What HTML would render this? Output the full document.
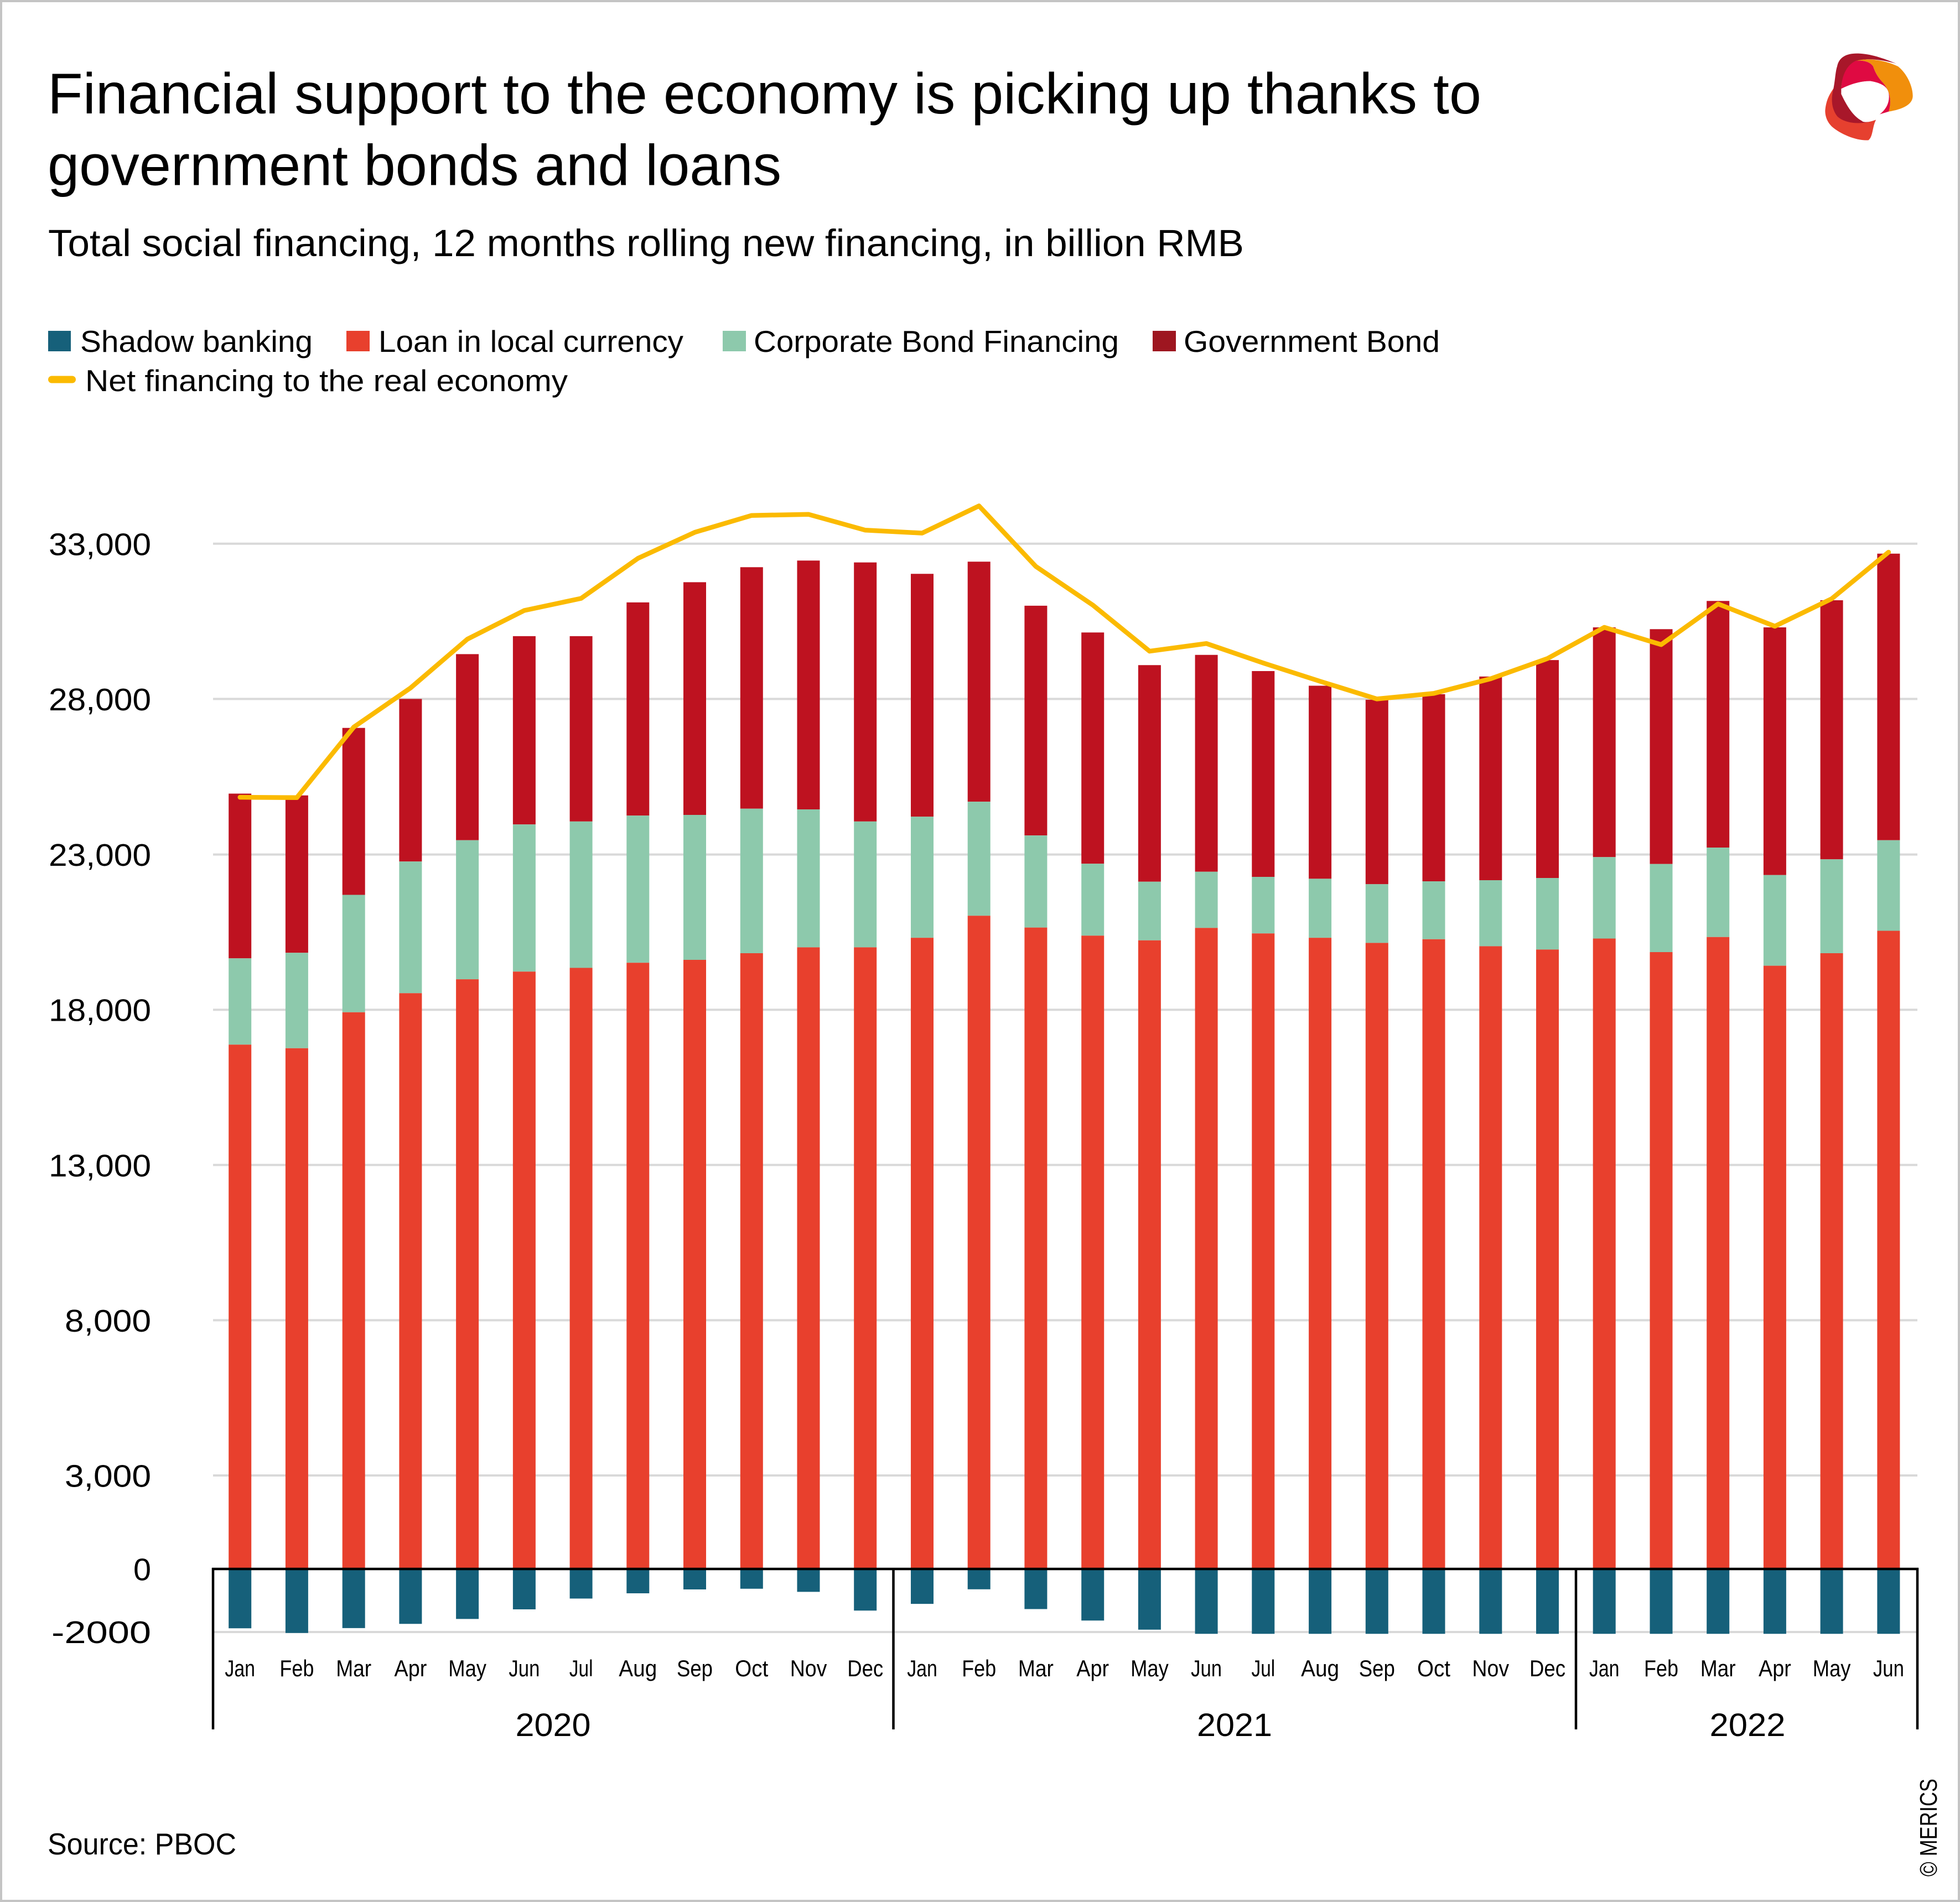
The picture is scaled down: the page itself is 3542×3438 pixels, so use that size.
<!DOCTYPE html>
<html>
<head>
<meta charset="utf-8">
<style>
  html,body{margin:0;padding:0;background:#fff;}
  svg{display:block;}
  text{font-family:"Liberation Sans","DejaVu Sans",sans-serif;fill:#000;}
</style>
</head>
<body>
<svg xmlns="http://www.w3.org/2000/svg" width="3542" height="3438" viewBox="0 0 3542 3438">
  <rect x="0" y="0" width="3542" height="3438" fill="#fff"/>
  <rect x="2" y="2" width="3538" height="3434" fill="none" stroke="#c4c4c4" stroke-width="4"/>

  <!-- Title -->
  <text x="86" y="205" font-size="104" textLength="2591" lengthAdjust="spacingAndGlyphs">Financial support to the economy is picking up thanks to</text>
  <text x="86" y="334.5" font-size="104" textLength="1326" lengthAdjust="spacingAndGlyphs">government bonds and loans</text>
  <text x="87" y="463" font-size="69" textLength="2161" lengthAdjust="spacingAndGlyphs">Total social financing, 12 months rolling new financing, in billion RMB</text>

  <!-- Logo -->
  <g transform="translate(3270,70) scale(0.3333)">
    <path d="M150,150 C160,100 200,78 265,80 C330,82 400,105 470,135 C400,115 300,100 250,125 C200,150 175,210 172,272 C190,340 230,410 290,450 C310,455 335,450 360,440 L350,462 C300,470 200,460 140,430 C110,410 95,380 100,330 C110,300 125,285 130,270 C140,220 140,180 150,150 Z" fill="#A8172A"/>
    <path d="M250,120 C320,100 420,120 480,150 C530,190 560,260 560,310 C560,350 520,380 430,395 C445,340 440,290 400,240 C370,210 355,180 345,150 C330,125 290,115 250,120 Z" fill="#F18F0C"/>
    <path d="M172,272 C175,200 200,145 250,120 C290,115 330,125 345,150 C355,180 370,210 400,240 C440,290 445,340 430,395 L380,410 C420,380 435,340 430,300 C425,260 390,240 330,230 C270,230 215,250 172,272 Z" fill="#DF0A42"/>
    <path d="M85,390 C90,330 110,300 130,270 C115,330 120,380 150,420 C190,460 280,470 360,440 C340,480 345,530 320,550 C260,555 170,520 120,475 C95,450 85,420 85,390 Z" fill="#E6402F"/>
    <path d="M172,272 C215,250 270,230 330,230 C390,240 425,260 430,300 C435,340 420,380 380,410 C340,430 320,448 295,450 C240,430 200,360 172,300 Z" fill="#fff"/>
  </g>

  <!-- Legend -->
  <rect x="87" y="598" width="41" height="37" fill="#16607A"/>
  <text x="145" y="636" font-size="55" textLength="420" lengthAdjust="spacingAndGlyphs">Shadow banking</text>
  <rect x="626" y="598" width="42" height="37" fill="#E8402D"/>
  <text x="684" y="636" font-size="55" textLength="551" lengthAdjust="spacingAndGlyphs">Loan in local currency</text>
  <rect x="1306" y="598" width="42" height="37" fill="#8DC9AC"/>
  <text x="1362" y="636" font-size="55" textLength="660" lengthAdjust="spacingAndGlyphs">Corporate Bond Financing</text>
  <rect x="2083" y="598" width="42" height="37" fill="#9E1620"/>
  <text x="2139" y="636" font-size="55" textLength="463" lengthAdjust="spacingAndGlyphs">Government Bond</text>
  <line x1="93.5" y1="686" x2="130.5" y2="686" stroke="#FBBA00" stroke-width="13" stroke-linecap="round"/>
  <text x="154" y="707" font-size="55" textLength="872" lengthAdjust="spacingAndGlyphs">Net financing to the real economy</text>

  <!-- Gridlines -->
  <g stroke="#d9d9d9" stroke-width="4">
    <line x1="385" y1="982.8" x2="3465" y2="982.8"/>
    <line x1="385" y1="1263.4" x2="3465" y2="1263.4"/>
    <line x1="385" y1="1544.6" x2="3465" y2="1544.6"/>
    <line x1="385" y1="1825.2" x2="3465" y2="1825.2"/>
    <line x1="385" y1="2105.8" x2="3465" y2="2105.8"/>
    <line x1="385" y1="2386.4" x2="3465" y2="2386.4"/>
    <line x1="385" y1="2667" x2="3465" y2="2667"/>
    <line x1="385" y1="2950" x2="3465" y2="2950"/>
  </g>

  <!-- Y labels -->
  <g font-size="57">
    <text x="88" y="1003.3" textLength="185" lengthAdjust="spacingAndGlyphs">33,000</text>
    <text x="88" y="1284" textLength="185" lengthAdjust="spacingAndGlyphs">28,000</text>
    <text x="88" y="1565" textLength="185" lengthAdjust="spacingAndGlyphs">23,000</text>
    <text x="88" y="1845.7" textLength="185" lengthAdjust="spacingAndGlyphs">18,000</text>
    <text x="88" y="2126.3" textLength="185" lengthAdjust="spacingAndGlyphs">13,000</text>
    <text x="117" y="2407" textLength="156" lengthAdjust="spacingAndGlyphs">8,000</text>
    <text x="117" y="2687.5" textLength="156" lengthAdjust="spacingAndGlyphs">3,000</text>
    <text x="241" y="2856.5" textLength="32" lengthAdjust="spacingAndGlyphs">0</text>
    <text x="93" y="2970" textLength="180" lengthAdjust="spacingAndGlyphs">-2000</text>
  </g>

  <!-- Government Bond -->
  <g stroke="#BE1220" stroke-width="41" fill="none">
    <path d="M433.7 1434.5V1732.3M536.4 1437.8V1722.3M639.2 1315.8V1617.5M741.9 1263.4V1557.2M844.6 1182.4V1518.7M947.4 1149.9V1490.2M1050.1 1149.9V1484.9M1152.8 1088.9V1474.3M1255.5 1052.4V1473M1358.3 1025.3V1461.7M1461 1013.3V1463M1563.7 1016.6V1484.9M1666.5 1037.2V1476.3M1769.2 1015.3V1449.1M1871.9 1094.9V1510.1M1974.7 1143.3V1561.2M2077.4 1202.3V1593.7M2180.1 1183.8V1575.8M2282.8 1213V1585M2385.6 1239.5V1588.4M2488.3 1264.7V1598.3M2591 1254.7V1593M2693.8 1222.9V1591M2796.5 1193.1V1587M2899.2 1134V1549.2M3002 1137.3V1561.8M3104.7 1086.3V1532M3207.4 1134V1581.7M3310.1 1085V1553.2M3412.9 1000.7V1518.7"/>
  </g>
  <!-- Corporate Bond -->
  <g stroke="#8DC9AC" stroke-width="41" fill="none">
    <path d="M433.7 1732.3V1888.2M536.4 1722.3V1894.8M639.2 1617.5V1829.8M741.9 1557.2V1795.3M844.6 1518.7V1770.1M947.4 1490.2V1756.2M1050.1 1484.9V1749.5M1152.8 1474.3V1740.3M1255.5 1473V1735M1358.3 1461.7V1723M1461 1463V1712.4M1563.7 1484.9V1712.4M1666.5 1476.3V1695.1M1769.2 1449.1V1655.3M1871.9 1510.1V1676.6M1974.7 1561.2V1691.2M2077.4 1593.7V1699.8M2180.1 1575.8V1677.2M2282.8 1585V1687.2M2385.6 1588.4V1695.1M2488.3 1598.3V1704.4M2591 1593V1697.8M2693.8 1591V1710.4M2796.5 1587V1716.4M2899.2 1549.2V1696.5M3002 1561.8V1721M3104.7 1532V1693.8M3207.4 1581.7V1745.6M3310.1 1553.2V1723M3412.9 1518.7V1682.5"/>
  </g>
  <!-- Loan -->
  <g stroke="#E8402D" stroke-width="41" fill="none">
    <path d="M433.7 1888.2V2836M536.4 1894.8V2836M639.2 1829.8V2836M741.9 1795.3V2836M844.6 1770.1V2836M947.4 1756.2V2836M1050.1 1749.5V2836M1152.8 1740.3V2836M1255.5 1735V2836M1358.3 1723V2836M1461 1712.4V2836M1563.7 1712.4V2836M1666.5 1695.1V2836M1769.2 1655.3V2836M1871.9 1676.6V2836M1974.7 1691.2V2836M2077.4 1699.8V2836M2180.1 1677.2V2836M2282.8 1687.2V2836M2385.6 1695.1V2836M2488.3 1704.4V2836M2591 1697.8V2836M2693.8 1710.4V2836M2796.5 1716.4V2836M2899.2 1696.5V2836M3002 1721V2836M3104.7 1693.8V2836M3207.4 1745.6V2836M3310.1 1723V2836M3412.9 1682.5V2836"/>
  </g>
  <!-- Shadow banking -->
  <g stroke="#16607A" stroke-width="41" fill="none">
    <path d="M433.7 2836V2943.3M536.4 2836V2951.8M639.2 2836V2942.9M741.9 2836V2935.3M844.6 2836V2926.4M947.4 2836V2909M1050.1 2836V2889.5M1152.8 2836V2880M1255.5 2836V2873M1358.3 2836V2871.7M1461 2836V2877.4M1563.7 2836V2911.3M1666.5 2836V2899.1M1769.2 2836V2872.7M1871.9 2836V2908.5M1974.7 2836V2929.2M2077.4 2836V2945.7M2180.1 2836V2953.2M2282.8 2836V2953.2M2385.6 2836V2953.2M2488.3 2836V2953.2M2591 2836V2953.2M2693.8 2836V2953.2M2796.5 2836V2953.2M2899.2 2836V2953.2M3002 2836V2953.2M3104.7 2836V2953.2M3207.4 2836V2953.2M3310.1 2836V2953.2M3412.9 2836V2953.2"/>
  </g>

  <!-- Axis lines -->
  <g stroke="#000" stroke-width="4.5" fill="none">
    <line x1="383" y1="2836" x2="3467" y2="2836"/>
    <line x1="385" y1="2834" x2="385" y2="3126"/>
    <line x1="1614.5" y1="2836" x2="1614.5" y2="3126"/>
    <line x1="2848" y1="2836" x2="2848" y2="3126"/>
    <line x1="3465" y1="2834" x2="3465" y2="3126"/>
  </g>

  <!-- Net financing line -->
  <polyline fill="none" stroke="#FBBA00" stroke-width="8.5" stroke-linejoin="round" stroke-linecap="round"
    points="433.7,1441.1 536.4,1441.8 639.2,1314.4 741.9,1243.5 844.6,1155.3 947.4,1103.5 1050.1,1081.6 1152.8,1009.3 1255.5,962.2 1358.3,931.7 1461,929.7 1563.7,958.3 1666.5,963.6 1769.2,914.5 1871.9,1023.9 1974.7,1093.6 2077.4,1177.1 2180.1,1163.2 2282.8,1198.4 2385.6,1231.5 2488.3,1263.4 2591,1253.4 2693.8,1226.9 2796.5,1190.4 2899.2,1134 3002,1165.2 3104.7,1091.6 3207.4,1132 3310.1,1082.3 3412.9,998.1"/>

  <!-- Month labels -->
  <g font-size="42">
    <text x="406.4" y="3030" textLength="54.6" lengthAdjust="spacingAndGlyphs">Jan</text>
    <text x="505.4" y="3030" textLength="62" lengthAdjust="spacingAndGlyphs">Feb</text>
    <text x="607.2" y="3030" textLength="64" lengthAdjust="spacingAndGlyphs">Mar</text>
    <text x="712.5" y="3030" textLength="58.8" lengthAdjust="spacingAndGlyphs">Apr</text>
    <text x="810.3" y="3030" textLength="68.7" lengthAdjust="spacingAndGlyphs">May</text>
    <text x="919.4" y="3030" textLength="56" lengthAdjust="spacingAndGlyphs">Jun</text>
    <text x="1028.8" y="3030" textLength="42.7" lengthAdjust="spacingAndGlyphs">Jul</text>
    <text x="1118.3" y="3030" textLength="69" lengthAdjust="spacingAndGlyphs">Aug</text>
    <text x="1223" y="3030" textLength="65" lengthAdjust="spacingAndGlyphs">Sep</text>
    <text x="1328.3" y="3030" textLength="60" lengthAdjust="spacingAndGlyphs">Oct</text>
    <text x="1427.7" y="3030" textLength="66.7" lengthAdjust="spacingAndGlyphs">Nov</text>
    <text x="1531.2" y="3030" textLength="65" lengthAdjust="spacingAndGlyphs">Dec</text>

    <text x="1639.2" y="3030" textLength="54.6" lengthAdjust="spacingAndGlyphs">Jan</text>
    <text x="1738.2" y="3030" textLength="62" lengthAdjust="spacingAndGlyphs">Feb</text>
    <text x="1839.9" y="3030" textLength="64" lengthAdjust="spacingAndGlyphs">Mar</text>
    <text x="1945.3" y="3030" textLength="58.8" lengthAdjust="spacingAndGlyphs">Apr</text>
    <text x="2043.1" y="3030" textLength="68.7" lengthAdjust="spacingAndGlyphs">May</text>
    <text x="2152.1" y="3030" textLength="56" lengthAdjust="spacingAndGlyphs">Jun</text>
    <text x="2261.5" y="3030" textLength="42.7" lengthAdjust="spacingAndGlyphs">Jul</text>
    <text x="2351.1" y="3030" textLength="69" lengthAdjust="spacingAndGlyphs">Aug</text>
    <text x="2455.8" y="3030" textLength="65" lengthAdjust="spacingAndGlyphs">Sep</text>
    <text x="2561" y="3030" textLength="60" lengthAdjust="spacingAndGlyphs">Oct</text>
    <text x="2660.4" y="3030" textLength="66.7" lengthAdjust="spacingAndGlyphs">Nov</text>
    <text x="2764" y="3030" textLength="65" lengthAdjust="spacingAndGlyphs">Dec</text>

    <text x="2871.9" y="3030" textLength="54.6" lengthAdjust="spacingAndGlyphs">Jan</text>
    <text x="2971" y="3030" textLength="62" lengthAdjust="spacingAndGlyphs">Feb</text>
    <text x="3072.7" y="3030" textLength="64" lengthAdjust="spacingAndGlyphs">Mar</text>
    <text x="3178" y="3030" textLength="58.8" lengthAdjust="spacingAndGlyphs">Apr</text>
    <text x="3275.8" y="3030" textLength="68.7" lengthAdjust="spacingAndGlyphs">May</text>
    <text x="3384.9" y="3030" textLength="56" lengthAdjust="spacingAndGlyphs">Jun</text>
  </g>

  <!-- Year labels -->
  <g font-size="58">
    <text x="931.5" y="3138" textLength="136" lengthAdjust="spacingAndGlyphs">2020</text>
    <text x="2163" y="3138" textLength="136" lengthAdjust="spacingAndGlyphs">2021</text>
    <text x="3089.5" y="3138" textLength="137" lengthAdjust="spacingAndGlyphs">2022</text>
  </g>

  <!-- Source & copyright -->
  <text x="86" y="3352" font-size="55" textLength="341" lengthAdjust="spacingAndGlyphs">Source: PBOC</text>
  <text transform="translate(3500,3392) rotate(-90)" font-size="44" textLength="177" lengthAdjust="spacingAndGlyphs">© MERICS</text>
</svg>
</body>
</html>
